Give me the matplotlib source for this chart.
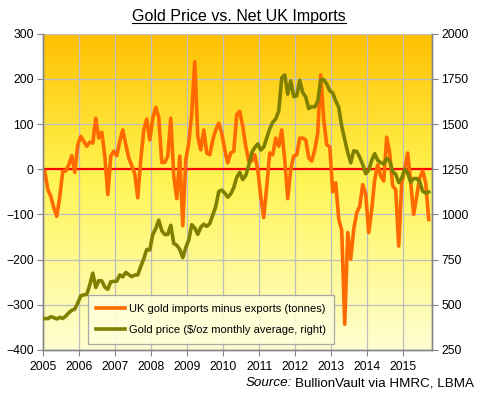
import numpy as np
import matplotlib
matplotlib.use("Agg")
import matplotlib.pyplot as plt
from matplotlib.colors import LinearSegmentedColormap
from matplotlib.lines import Line2D

plt.rcParams['font.family'] = ['Liberation Sans', 'DejaVu Sans']

# ---- data (monthly, Jan 2005 .. Sep 2015) ----
start_year = 2005
net_imports = [
    -5, -45, -60, -85, -104, -60, -4, -4, 10, 30, -7, 54,          # 2005
    73, 62, 51, 60, 58, 113, 69, 82, 30, -56, 29, 40,               # 2006
    30, 62, 87, 55, 25, 8, -10, -63, 21, 87, 111, 65,               # 2007
    113, 137, 115, 15, 15, 29, 113, -15, -65, 29, -125, 21,         # 2008
    58, 124, 238, 73, 43, 87, 36, 32, 65, 87, 102, 80,              # 2009
    43, 14, 36, 40, 121, 128, 95, 51, 18, 18, 32, 0,                # 2010
    -60, -107, -38, 36, 32, 69, 51, 87, 21, -65, 0, 29,             # 2011
    32, 69, 69, 65, 25, 18, 43, 80, 209, 110, 54, 50,               # 2012
    -50, -30, -110, -135, -343, -140, -199, -133, -96, -82, -34, -55,  # 2013
    -140, -89, -23, 10, -15, -26, 71, 36, -37, -45, -170, -30,     # 2014
    0, 36, -30, -100, -60, -19, -4, -30, -111,                      # 2015
]
gold_price = [
    424.0, 423.4, 434.2, 428.9, 421.9, 430.7, 424.5, 437.9, 456.0, 469.9, 476.7, 510.1,
    549.9, 555.0, 557.1, 610.6, 675.4, 596.2, 633.7, 632.6, 598.2, 585.8, 627.8, 629.8,
    631.2, 664.8, 654.9, 679.4, 666.9, 655.5, 665.3, 665.4, 712.7, 754.6, 806.3, 803.2,
    889.6, 922.3, 968.4, 909.7, 888.7, 889.5, 939.8, 839.0, 829.9, 806.6, 760.9, 816.1,
    858.7, 943.2, 924.3, 890.2, 928.6, 945.7, 934.2, 949.5, 996.6, 1043.2, 1127.0, 1134.7,
    1117.9, 1095.4, 1113.3, 1148.7, 1205.4, 1232.9, 1193.0, 1215.8, 1271.0, 1342.0, 1369.9, 1390.6,
    1356.4, 1372.7, 1424.0, 1473.8, 1510.4, 1528.7, 1572.8, 1755.8, 1771.9, 1665.2, 1739.0, 1652.3,
    1656.1, 1742.6, 1673.8, 1650.1, 1585.5, 1596.7, 1593.9, 1626.0, 1744.5, 1746.6, 1721.6, 1684.8,
    1671.9, 1627.6, 1593.1, 1487.9, 1414.0, 1343.4, 1285.5, 1351.7, 1348.6, 1316.6, 1275.8, 1225.4,
    1244.3, 1299.6, 1336.1, 1299.0, 1287.5, 1279.1, 1310.6, 1295.1, 1236.6, 1222.5, 1176.3, 1200.6,
    1251.8, 1227.1, 1178.6, 1198.9, 1198.6, 1181.5, 1128.3, 1117.9, 1124.5,
]
year_ticks = list(range(2005, 2016))
left_ticks = list(range(-400, 301, 100))
right_ticks = list(range(250, 2001, 250))

title = "Gold Price vs. Net UK Imports"
label_imports = "UK gold imports minus exports (tonnes)"
label_gold = "Gold price ($/oz monthly average, right)"

# ---- figure ----
fig = plt.figure(figsize=(4.8, 3.95), dpi=100)
fig.patch.set_facecolor('white')
L, R, T, B = 43.3 / 480, 431.7 / 480, 1 - 33.7 / 395, 1 - 350 / 395
ax = fig.add_axes([L, B, R - L, T - B])
ax2 = ax.twinx()

x = start_year + (np.arange(len(net_imports)) + 0.5) / 12.0
xg = start_year + (np.arange(len(gold_price)) + 0.5) / 12.0
xmax = 2015 + 9.5 / 12

# gradient background
cmap = LinearSegmentedColormap.from_list(
    'bg', [(0.0, '#FFFFD2'), (0.55, '#FFF451'), (1.0, '#FFC000')])
grad = np.linspace(0, 1, 256).reshape(-1, 1)
ax.imshow(grad, aspect='auto', cmap=cmap, origin='lower',
          extent=[2005, xmax, -400, 300], zorder=0)

ax.set_xlim(2005, xmax)
ax.set_ylim(-400, 300)
ax2.set_ylim(250, 2000)

grid_c = '#BEBEBE'
for yt in left_ticks:
    ax.axhline(yt, color=grid_c, lw=0.9, zorder=1)
for xt in year_ticks[1:]:
    ax.axvline(xt, color=grid_c, lw=0.9, zorder=1)

ax.axhline(0, color='#FF0000', lw=1.6, zorder=2)

ln1, = ax.plot(x, net_imports, color='#FF6A00', lw=2.6, zorder=3,
               solid_joinstyle='round', label=label_imports)
ln2, = ax2.plot(xg, gold_price, color='#808000', lw=2.6, zorder=3,
                solid_joinstyle='round', label=label_gold)

ax.set_xticks(year_ticks)
ax.set_xticklabels([str(y) for y in year_ticks])
ax.set_yticks(left_ticks)
ax2.set_yticks(right_ticks)

spine_c = '#868686'
for a in (ax, ax2):
    for s in a.spines.values():
        s.set_color(spine_c)
        s.set_linewidth(1.0)
    a.spines['top'].set_visible(False)
ax.tick_params(axis='y', direction='out', length=4, color=spine_c, labelsize=8.7, pad=3)
ax.tick_params(axis='x', direction='out', length=4, color=spine_c, labelsize=8.7, pad=4)
ax2.tick_params(axis='y', direction='out', length=4, color=spine_c, labelsize=8.7, pad=3)
ax2.patch.set_visible(False)

leg = ax2.legend(handles=[ln1, ln2], loc='lower left',
                 bbox_to_anchor=(0.115, 0.02), borderaxespad=0,
                 fontsize=8, frameon=True, fancybox=False,
                 handlelength=2.6, handletextpad=0.3, labelspacing=1.05,
                 borderpad=0.75)
leg.get_frame().set_edgecolor('#A0A0A0')
leg.get_frame().set_facecolor('#FFFFD8')
leg.get_frame().set_alpha(0.9)
leg.get_frame().set_linewidth(0.9)

t = fig.text(239 / 480, 1 - 16 / 395, title, ha='center', va='center', fontsize=11.5)

s2 = fig.text(474 / 480, 1 - 383 / 395, "BullionVault via HMRC, LBMA",
              ha='right', va='center', fontsize=9.6)
fig.canvas.draw()
r = fig.canvas.get_renderer()
bb = s2.get_window_extent(r)
s1 = fig.text((bb.x0 - 3) / 480, 1 - 383 / 395, "Source:", ha='right', va='center',
              fontsize=9.6, style='italic')
tb = t.get_window_extent(r)
uy = (tb.y0 + 1) / 395
fig.add_artist(Line2D([tb.x0 / 480, tb.x1 / 480], [uy, uy], color='black', lw=0.8))

fig.savefig('out.png', dpi=100)
